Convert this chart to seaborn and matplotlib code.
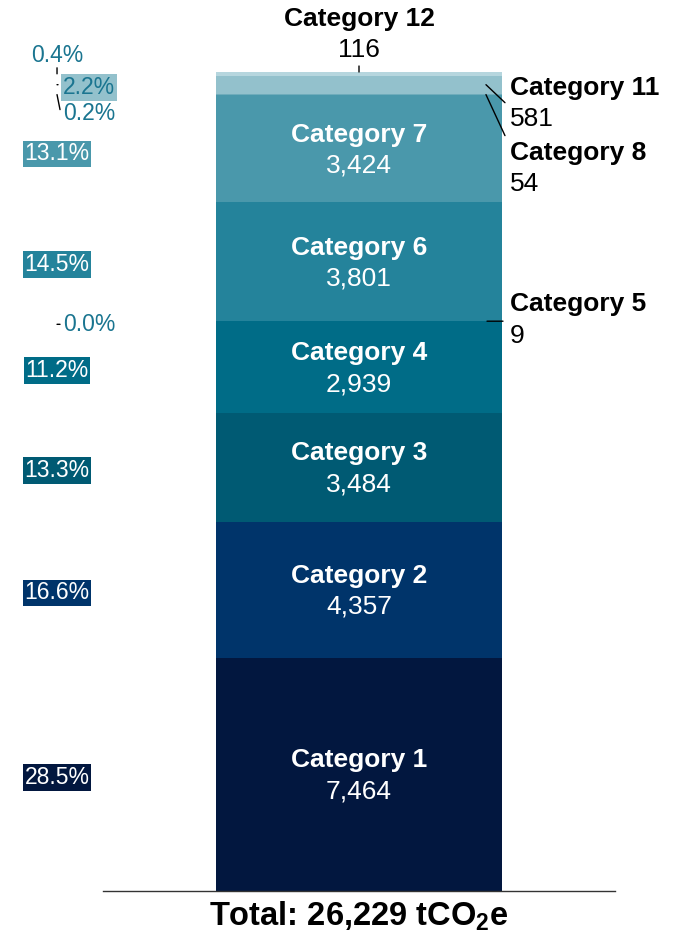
import seaborn as sns
import matplotlib.pyplot as plt
import pandas as pd

# stack from the bottom up
categories = ["Category 1", "Category 2", "Category 3", "Category 4", "Category 5",
              "Category 6", "Category 7", "Category 8", "Category 11", "Category 12"]
values = [7464, 4357, 3484, 2939, 9, 3801, 3424, 54, 581, 116]
shares = ["28.5%", "16.6%", "13.3%", "11.2%", "0.0%", "14.5%", "13.1%", "0.2%", "2.2%", "0.4%"]
colors = ["#02173f", "#00346a", "#005a73", "#006c87", "#0f7892",
          "#24839b", "#4a98ab", "#6facbb", "#93c1cc", "#b6d6de"]
total_label = r"Total: 26,229 tCO$_\mathbf{2}$e"

sns.set_style("white")
plt.rcParams['font.family'] = ['Liberation Sans', 'DejaVu Sans']
plt.rcParams['text.color'] = 'black'
plt.rcParams['mathtext.fontset'] = 'custom'
plt.rcParams['mathtext.rm'] = 'Liberation Sans:bold'
plt.rcParams['mathtext.bf'] = 'Liberation Sans:bold'

df = pd.DataFrame({"scope": "Total", "category": categories, "value": values})

W, H = 679, 932
fig = plt.figure(figsize=(W / 100, H / 100), dpi=100)
ax = fig.add_axes([103 / W, 41 / H, 512 / W, (891 - 72) / H])

# histplot stacks the last hue level at the bottom, so hand it the order top-down
sns.histplot(df, x="scope", hue="category", weights="value", multiple="stack",
             discrete=True, shrink=1, hue_order=categories[::-1],
             palette=dict(zip(categories, colors)), alpha=1, linewidth=0,
             legend=False, ax=ax)

total = sum(values)
ax.set_xlim(-0.898, 0.898)
ax.set_ylim(0, total)
ax.set_xticks([])
ax.set_yticks([])
ax.set_xlabel("")
ax.set_ylabel("")
sns.despine(ax=ax, left=True)
ax.spines["bottom"].set_color("#333333")
ax.spines["bottom"].set_linewidth(1)

tr = ax.get_yaxis_transform()
bottoms = [sum(values[:i]) for i in range(len(values))]
centers = [b + v / 2 for b, v in zip(bottoms, values)]

FS = 19
PS = 16.5


def label(x, y, dy, text, **kw):
    ax.annotate(text, xy=(x, y), xycoords=tr, xytext=(0, dy), textcoords="offset pixels",
                va="center", annotation_clip=False, **kw)


def leader(x, y, dx, dy):
    ax.annotate("", xy=(x, y), xycoords=tr, xytext=(dx, dy), textcoords="offset pixels",
                annotation_clip=False,
                arrowprops=dict(arrowstyle="-", color="black", lw=1, shrinkA=0, shrinkB=0))


big = {"Category 1", "Category 2", "Category 3", "Category 4", "Category 6", "Category 7"}
teal = "#1a7590"
left_x = -0.0898
for cat, val, share, col, cy in zip(categories, values, shares, colors, centers):
    if cat in big:
        label(0.5, cy, 14, cat, ha="center", color="white", fontsize=FS, fontweight="bold")
        label(0.5, cy, -17, f"{val:,}", ha="center", color="white", fontsize=FS)
        dy = -5 if cat == "Category 7" else -3
        label(left_x, cy, dy, share, ha="center", color="white", fontsize=PS,
              bbox=dict(boxstyle="square,pad=0.08", fc=col, ec="none"))

# small segments, left side
c = dict(zip(categories, centers))
label(left_x, c["Category 12"], 18, shares[9], ha="center", color=teal, fontsize=PS)
leader(-0.0898, c["Category 12"], 0, 6)
label(-0.078, c["Category 11"], -2.5, shares[8], ha="left", color=teal, fontsize=PS,
      bbox=dict(boxstyle="square,pad=0.08", fc=colors[8], ec="none"))
leader(-0.0898, c["Category 11"], 1, 0)
label(-0.078, c["Category 8"], -18.5, shares[7], ha="left", color=teal, fontsize=PS)
leader(-0.0898, c["Category 8"], 3, -15)
label(-0.078, c["Category 5"], -3, shares[4], ha="left", color=teal, fontsize=PS)
leader(-0.0898, c["Category 5"] - 100, 3, 0)

# small segments, right side
rx = 0.795
label(0.5, c["Category 12"], 55, "Category 12", ha="center", fontsize=FS, fontweight="bold")
label(0.5, c["Category 12"], 24, f"{values[9]:,}", ha="center", fontsize=FS)
leader(0.5, total, 0, 6)
label(rx, c["Category 11"], -3, "Category 11", ha="left", fontsize=FS, fontweight="bold")
label(rx, c["Category 11"], -34, f"{values[8]:,}", ha="left", fontsize=FS)
leader(0.748, c["Category 11"], 19, -18)
label(rx, c["Category 8"], -58.5, "Category 8", ha="left", fontsize=FS, fontweight="bold")
label(rx, c["Category 8"], -89.5, f"{values[7]:,}", ha="left", fontsize=FS)
leader(0.748, c["Category 8"], 19, -41)
label(rx, c["Category 5"], 17, "Category 5", ha="left", fontsize=FS, fontweight="bold")
label(rx, c["Category 5"], -15, f"{values[4]:,}", ha="left", fontsize=FS)
leader(0.75, c["Category 5"], 16, 0)

label(0.5, 0, -25, total_label, ha="center", fontsize=23.5, fontweight="bold")

fig.savefig("out.png", dpi=100)
